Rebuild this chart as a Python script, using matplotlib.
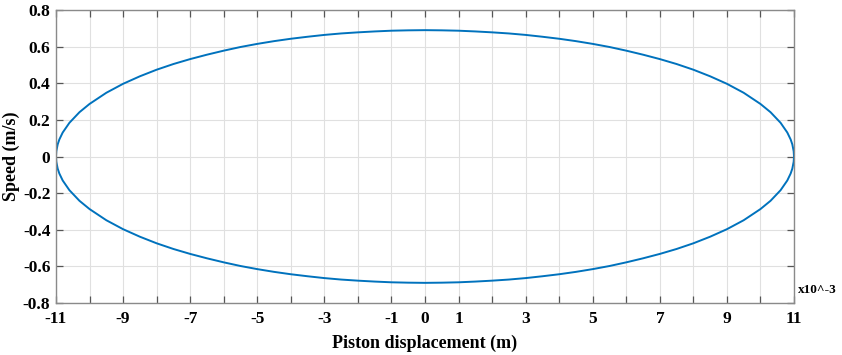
import matplotlib

matplotlib.use("Agg")
import matplotlib.pyplot as plt

# Piston displacement (x10^-3 m) and speed (m/s)
displacement = [
    -11.0, -10.99, -10.95, -10.9, -10.8, -10.6, -10.3, -10.0, -9.5, -9.0,
    -8.5, -8.0, -7.5, -7.0, -6.5, -6.0, -5.5, -5.0, -4.5, -4.0,
    -3.5, -3.0, -2.5, -2.0, -1.5, -1.0, -0.5, 0.0,
    0.5, 1.0, 1.5, 2.0, 2.5, 3.0, 3.5, 4.0, 4.5, 5.0,
    5.5, 6.0, 6.5, 7.0, 7.5, 8.0, 8.5, 9.0, 9.5, 10.0,
    10.3, 10.6, 10.8, 10.9, 10.95, 10.99, 11.0,
]
speed_upper = [
    0.000, 0.029, 0.066, 0.093, 0.131, 0.184, 0.242, 0.287, 0.348, 0.397,
    0.438, 0.474, 0.505, 0.532, 0.556, 0.578, 0.598, 0.615, 0.630, 0.643,
    0.654, 0.664, 0.672, 0.678, 0.683, 0.687, 0.689, 0.690,
    0.689, 0.687, 0.683, 0.678, 0.672, 0.664, 0.654, 0.643, 0.630, 0.615,
    0.598, 0.578, 0.556, 0.532, 0.505, 0.474, 0.438, 0.397, 0.348, 0.287,
    0.242, 0.184, 0.131, 0.093, 0.066, 0.029, 0.000,
]
speed_lower = [
    0.000, -0.029, -0.066, -0.093, -0.131, -0.184, -0.242, -0.287, -0.348, -0.397,
    -0.438, -0.474, -0.505, -0.532, -0.556, -0.578, -0.598, -0.615, -0.630, -0.643,
    -0.654, -0.664, -0.672, -0.678, -0.683, -0.687, -0.689, -0.690,
    -0.689, -0.687, -0.683, -0.678, -0.672, -0.664, -0.654, -0.643, -0.630, -0.615,
    -0.598, -0.578, -0.556, -0.532, -0.505, -0.474, -0.438, -0.397, -0.348, -0.287,
    -0.242, -0.184, -0.131, -0.093, -0.066, -0.029, 0.000,
]

x_ticks = list(range(-11, 12))
x_labeled = [-11, -9, -7, -5, -3, -1, 0, 1, 3, 5, 7, 9, 11]
y_ticks = [-0.8, -0.6, -0.4, -0.2, 0, 0.2, 0.4, 0.6, 0.8]
y_labels = ["-0.8", "-0.6", "-0.4", "-0.2", "0", "0.2", "0.4", "0.6", "0.8"]

plt.rcParams["font.family"] = ["Liberation Serif", "DejaVu Serif"]
plt.rcParams["font.weight"] = "bold"

fig = plt.figure(figsize=(8.42, 3.55), dpi=100)
ax = fig.add_axes([0.0665, 0.1465, 0.8765, 0.8253])

line_color = "#0072BD"
ax.plot(displacement, speed_upper, color=line_color, linewidth=1.4)
ax.plot(displacement[::-1], speed_lower[::-1], color=line_color, linewidth=1.4)

ax.set_xlim(-11, 11)
ax.set_ylim(-0.8, 0.8)
ax.set_xticks(x_ticks)
ax.set_xticklabels([str(t) if t in x_labeled else "" for t in x_ticks])
ax.set_yticks(y_ticks)
ax.set_yticklabels(y_labels)

ax.grid(True, color="#e0e0e0", linewidth=0.8)
ax.set_axisbelow(True)
ax.tick_params(
    direction="in", length=5, width=0.9, color="#555555",
    top=True, right=True, labelsize=12.5,
)
ax.tick_params(axis="x", pad=6)
ax.tick_params(axis="y", pad=4)
for spine in ax.spines.values():
    spine.set_color("#8a8a8a")
    spine.set_linewidth(1.0)

ax.set_xlabel("Piston displacement (m)", fontsize=13, fontweight="bold", labelpad=5)
ax.set_ylabel("Speed (m/s)", fontsize=13, fontweight="bold", labelpad=2)
ax.text(1.006, 0.025, "x10^-3", transform=ax.transAxes, fontsize=9.5,
        fontweight="bold", ha="left", va="bottom")

fig.savefig("out.png", dpi=100)
